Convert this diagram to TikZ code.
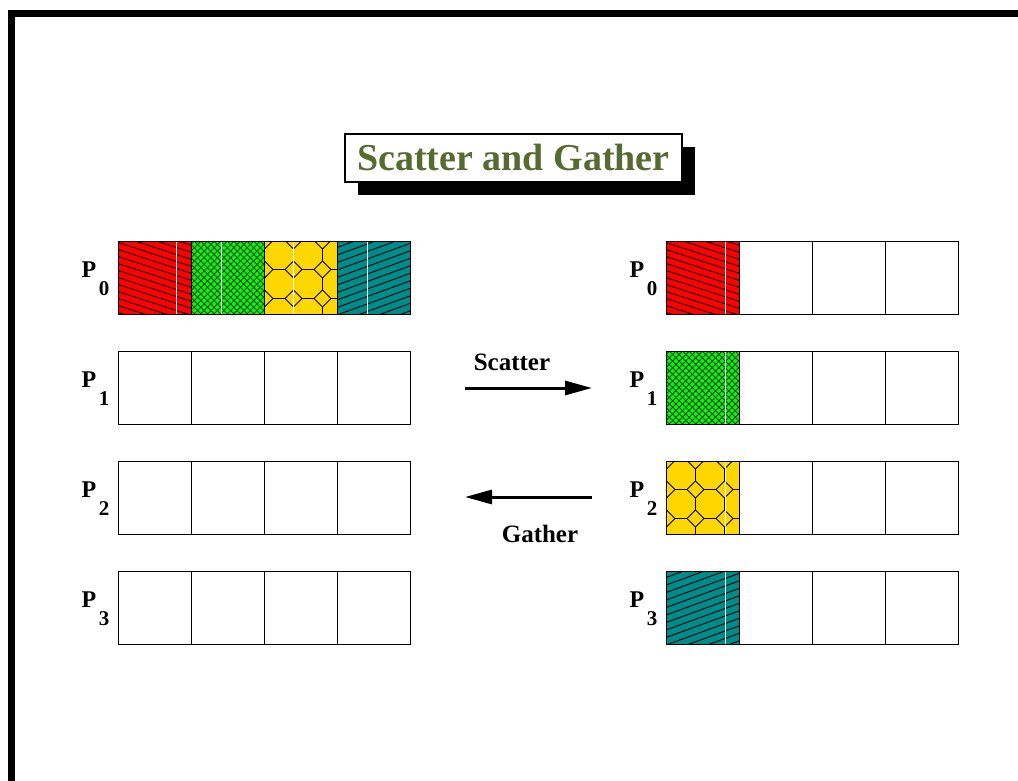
\documentclass[tikz,border=0pt]{standalone}
\usepackage{fontspec}
\setmainfont{Liberation Serif}
\usetikzlibrary{arrows.meta,shadows}
\definecolor{titlegreen}{HTML}{556B2F}
\definecolor{cellred}{HTML}{FF0000}
\definecolor{cellgreen}{HTML}{11EE11}
\definecolor{cellyellow}{HTML}{FFD700}
\definecolor{cellteal}{HTML}{008B8B}
\tikzset{
  cell/.style={draw=black, line width=0.8pt, minimum width=73pt, minimum height=73pt,
    inner sep=0pt, outer sep=0pt, anchor=north west},
  whitemark/.style={white, line width=1pt},
  redcell/.style={cell, fill=cellred, path picture={
      \foreach \k in {-14,...,14}{\draw[line width=0.9pt] ([yshift=\k*7pt]path picture bounding box.west) -- ++(-18:120pt);}
      \draw[whitemark] ([xshift=#1]path picture bounding box.north west) -- ([xshift=#1]path picture bounding box.south west);}},
  tealcell/.style={cell, fill=cellteal, path picture={
      \foreach \k in {-14,...,14}{\draw[line width=0.9pt] ([yshift=\k*7.5pt]path picture bounding box.west) -- ++(20:120pt);}
      \draw[whitemark] ([xshift=#1]path picture bounding box.north west) -- ([xshift=#1]path picture bounding box.south west);}},
  greencell/.style={cell, fill=cellgreen, path picture={
      \foreach \k in {-25,...,25}{
        \draw[line width=0.7pt, black!80!green] ([yshift=\k*6.6pt]path picture bounding box.west) -- ++(45:110pt);
        \draw[line width=0.7pt, black!80!green] ([yshift=\k*6.6pt]path picture bounding box.west) -- ++(-45:110pt);}
      \draw[whitemark] ([xshift=#1]path picture bounding box.north west) -- ([xshift=#1]path picture bounding box.south west);}},
  yellowcell/.style={cell, fill=cellyellow, path picture={
      \foreach \i in {-1,0,1,2,3}{\foreach \j in {-1,0,1,2,3}{
        \draw[line width=0.8pt] ([xshift=15pt+\i*29pt, yshift=-14pt-\j*29pt]path picture bounding box.north west)
          +(22.5:15.7pt) -- +(67.5:15.7pt) -- +(112.5:15.7pt) -- +(157.5:15.7pt)
          -- +(202.5:15.7pt) -- +(247.5:15.7pt) -- +(292.5:15.7pt) -- +(337.5:15.7pt) -- cycle;}}
      \draw[whitemark] ([xshift=#1]path picture bounding box.north west) -- ([xshift=#1]path picture bounding box.south west);}},
  plab/.style={font=\bfseries\fontsize{24}{28}\selectfont, inner sep=0pt},
  psub/.style={font=\bfseries\fontsize{21}{24}\selectfont, inner sep=0pt},
  oplab/.style={font=\bfseries\fontsize{25}{30}\selectfont, inner sep=0pt},
  titlebox/.style={draw=black, line width=2pt, fill=white, minimum width=337pt, minimum height=48pt,
    inner sep=0pt, text=titlegreen, font=\bfseries\fontsize{38}{44}\selectfont,
    drop shadow={shadow xshift=13pt, shadow yshift=-13pt, fill=black, opacity=1}},
  bigarrow/.style={line width=3pt, -{Triangle[length=27pt,width=14pt]}}
}
\begin{document}
\begin{tikzpicture}[x=1pt,y=-1pt]
\useasboundingbox (0,0) rectangle (1018,781);
% frame
\fill[black] (8,10) rectangle (1018,17);
\fill[black] (8,10) rectangle (15,781);
% title
\node[titlebox] (title) at (513.5,158) {Scatter and Gather};
% left column
\node[redcell=58pt] (L0a) at (118,241) {};
\node[greencell=30pt] (L0b) at (191,241) {};
\node[yellowcell=29pt] (L0c) at (264,241) {};
\node[tealcell=30pt] (L0d) at (337,241) {};
\foreach \r/\yy in {1/351,2/461,3/571}{
  \node[cell] (L\r a) at (118,\yy) {};
  \node[cell] (L\r b) at (191,\yy) {};
  \node[cell] (L\r c) at (264,\yy) {};
  \node[cell] (L\r d) at (337,\yy) {};
}
% right column
\node[redcell=59pt] (R0a) at (666,241) {};
\node[greencell=59pt] (R1a) at (666,351) {};
\node[yellowcell=59pt] (R2a) at (666,461) {};
\node[tealcell=59pt] (R3a) at (666,571) {};
\foreach \r/\yy in {0/241,1/351,2/461,3/571}{
  \node[cell] (R\r b) at (739,\yy) {};
  \node[cell] (R\r c) at (812,\yy) {};
  \node[cell] (R\r d) at (885,\yy) {};
}
% labels
\foreach \r/\yy in {0/270,1/380,2/490,3/600}{
  \node[plab] (LP\r) at (89,\yy) {P};
  \node[psub] (LS\r) at (104,\yy+19) {\r};
  \node[plab] (RP\r) at (637,\yy) {P};
  \node[psub] (RS\r) at (652,\yy+19) {\r};
}
% arrows
\coordinate (sA) at (465,388);
\coordinate (sB) at (592,388);
\coordinate (gA) at (592,497);
\coordinate (gB) at (465,497);
\draw[bigarrow] (sA) -- (sB);
\draw[bigarrow] (gA) -- (gB);
\node[oplab] (scat) at (512,362) {Scatter};
\node[oplab] (gath) at (540,534) {Gather};
\end{tikzpicture}
\end{document}
